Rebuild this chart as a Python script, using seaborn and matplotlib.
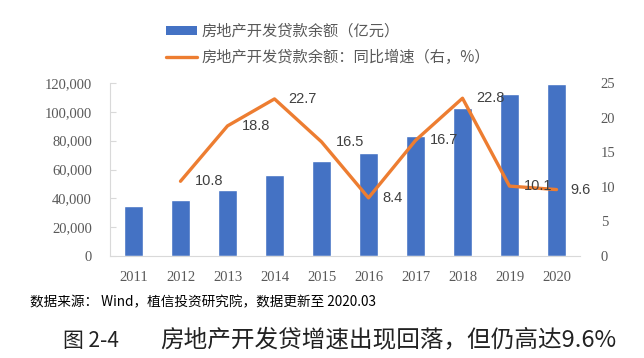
import numpy as np
import pandas as pd
import matplotlib
matplotlib.use("Agg")
import matplotlib.pyplot as plt
import matplotlib.ticker as mticker
from matplotlib.patches import Patch
from matplotlib.lines import Line2D
import seaborn as sns

# ---- data ----
years = ["2011", "2012", "2013", "2014", "2015", "2016", "2017", "2018", "2019", "2020"]
balance = [34700, 38800, 45800, 56200, 65900, 71400, 83200, 102600, 112400, 119300]
growth = [np.nan, 10.8, 18.8, 22.7, 16.5, 8.4, 16.7, 22.8, 10.1, 9.6]
legend_labels = ["房地产开发贷款余额（亿元）", "房地产开发贷款余额：同比增速（右，%）"]
source_text = "数据来源： Wind，植信投资研究院，数据更新至 2020.03"
fig_no = "图 2-4"
title_text = "房地产开发贷增速出现回落，但仍高达9.6%"

BLUE = "#4472C4"
ORANGE = "#ED7D31"
GRAY = "#595959"
LGRAY = "#D9D9D9"

sns.set_style("white")
plt.rcParams["font.family"] = ["Noto Sans CJK SC", "DejaVu Sans"]

df = pd.DataFrame({"year": years, "balance": balance, "growth": growth})
df["pos"] = np.arange(len(df))

fig = plt.figure(figsize=(6.44, 3.58), dpi=100)
ax = fig.add_axes([110 / 644, 1 - 256 / 358, 470 / 644, 173 / 358])

sns.barplot(data=df, x="year", y="balance", color=BLUE, saturation=1,
            width=0.4, ax=ax)
ax.set_xlim(-0.5, len(df) - 0.5)
ax.set_ylim(0, 120000)
ax.set_yticks(np.arange(0, 120001, 20000))
ax.yaxis.set_major_formatter(mticker.FuncFormatter(lambda v, p: f"{int(v):,}"))
ax.set_xlabel("")
ax.set_ylabel("")

for s in ["top", "right"]:
    ax.spines[s].set_visible(False)
for s in ["left", "bottom"]:
    ax.spines[s].set_color(LGRAY)
    ax.spines[s].set_linewidth(0.8)

serif = ["Liberation Serif", "DejaVu Serif"]
ax.tick_params(axis="y", direction="in", length=4, color=LGRAY, pad=13,
               labelcolor=GRAY, labelsize=10.5)
ax.tick_params(axis="x", which="major", length=0, pad=11, labelcolor=GRAY,
               labelsize=10.5)
ax.set_xticks(np.arange(-0.5, len(df), 1.0), minor=True)
ax.tick_params(axis="x", which="minor", direction="out", length=4, color=LGRAY)
for lab in ax.get_xticklabels() + ax.get_yticklabels():
    lab.set_fontfamily(serif)

ax2 = ax.twinx()
dg = df.dropna(subset=["growth"])
sns.lineplot(x=dg["pos"].to_numpy(), y=dg["growth"].to_numpy(), color=ORANGE,
             linewidth=2.4, ax=ax2)
ax2.set_ylim(0, 25)
ax2.set_yticks(np.arange(0, 26, 5))
for s in ["top", "right", "left", "bottom"]:
    ax2.spines[s].set_visible(False)
ax2.tick_params(axis="y", length=0, pad=15, labelcolor=GRAY, labelsize=10.5)
for lab in ax2.get_yticklabels():
    lab.set_fontfamily(serif)

for xp, g in zip(dg["pos"], dg["growth"]):
    ax2.annotate(f"{g:.1f}", (xp, g), xytext=(10, 0), textcoords="offset points",
                 ha="left", va="center", fontsize=10.5, color="#404040",
                 family=["Liberation Sans", "DejaVu Sans"])

handles = [Patch(facecolor=BLUE, edgecolor="none"),
           Line2D([0], [0], color=ORANGE, linewidth=2.4)]
leg = fig.legend(handles, legend_labels, loc="upper left",
                 bbox_to_anchor=(166 / 644, 1 - 23 / 358), frameon=False,
                 fontsize=11, handlelength=2.0, handleheight=0.55,
                 handletextpad=0.3, labelspacing=0.6, borderpad=0,
                 borderaxespad=0)
for t in leg.get_texts():
    t.set_color(GRAY)

fig.text(30 / 644, 1 - 302 / 358, source_text, fontsize=9.8, color="black",
         ha="left", va="center")
fig.text(63 / 644, 1 - 341 / 358, fig_no, fontsize=15, color="#222222",
         ha="left", va="center", weight="light")
fig.text(160 / 644, 1 - 341 / 358, title_text, fontsize=17, color="#222222",
         ha="left", va="center", weight="light")

fig.savefig("out.png", dpi=100)
